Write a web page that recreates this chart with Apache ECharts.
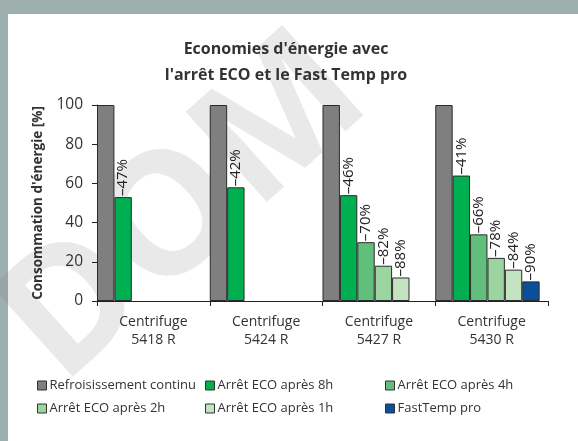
<!DOCTYPE html>
<html>
<head>
<meta charset="utf-8">
<script src="https://cdn.jsdelivr.net/npm/echarts@6/dist/echarts.min.js"></script>
<style>
html,body{margin:0;padding:0;background:#fff;}
#c{width:578px;height:441px;}
</style>
</head>
<body>
<div id="c"></div>
<script>
const categories = ['Centrifuge\n5418 R', 'Centrifuge\n5424 R', 'Centrifuge\n5427 R', 'Centrifuge\n5430 R'];
const seriesNames = ['Refroisissement continu', 'Arrêt ECO après 8h', 'Arrêt ECO après 4h', 'Arrêt ECO après 2h', 'Arrêt ECO après 1h', 'FastTemp pro'];
const continuous = [100, 100, 100, 100];
const eco8h = [53, 58, 54, 64];
const eco4h = ['-', '-', 30, 34];
const eco2h = ['-', '-', 18, 22];
const eco1h = ['-', '-', 12, 16];
const fastTemp = ['-', '-', '-', 10];
const labels8h = ['–47%', '–42%', '–46%', '–41%'];
const labels4h = ['', '', '–70%', '–66%'];
const labels2h = ['', '', '–82%', '–78%'];
const labels1h = ['', '', '–88%', '–84%'];
const labelsFast = ['', '', '', '–90%'];
const yTicks = [0, 20, 40, 60, 80, 100];

const FONT = '"Open Sans", "Noto Sans", sans-serif';
const colors = ['#7f7f7f', '#00b050', '#62bf7b', '#9bd49f', '#c4e4c1', '#0b4f9c'];
const values = [continuous, eco8h, eco4h, eco2h, eco1h, fastTemp];
const labelArrs = [null, labels8h, labels4h, labels2h, labels1h, labelsFast];

const chart = echarts.init(document.getElementById('c'), null, {renderer: 'canvas'});

const series = values.map((vals, i) => ({
  type: 'bar',
  name: seriesNames[i],
  data: vals,
  barWidth: '15.43%',
  barGap: '0%',
  itemStyle: {color: colors[i], borderColor: '#2b2b2b', borderWidth: 1},
  emphasis: {disabled: true},
  label: labelArrs[i] ? {
    show: true,
    position: 'top',
    distance: 1,
    rotate: 90,
    align: 'left',
    verticalAlign: 'middle',
    fontFamily: FONT,
    fontSize: 15,
    color: '#222',
    formatter: (p) => labelArrs[i][p.dataIndex]
  } : {show: false}
}));
series.push({
  type: 'bar',
  name: 'spacer',
  data: ['-', '-', '-', '-'],
  barWidth: '7.4%',
  barGap: '0%',
  itemStyle: {color: 'transparent'}
});

const legendPos = [[32, 374], [200, 374], [380, 374], [32, 397], [200, 397], [380, 397]];
const legends = seriesNames.map((n, i) => ({
  data: [n],
  left: legendPos[i][0],
  top: legendPos[i][1],
  itemWidth: 9,
  itemHeight: 9,
  icon: 'rect',
  selectedMode: false,
  itemStyle: {borderColor: '#333', borderWidth: 1},
  textStyle: {fontFamily: FONT, fontSize: 13, color: '#333', padding: [0, 0, 0, -2]}
}));

const wmAngle = 42 * Math.PI / 180;

chart.setOption({
  animation: false,
  backgroundColor: '#ffffff',
  graphic: [
    {type: 'rect', z: -100, shape: {x: 0, y: 0, width: 578, height: 14}, style: {fill: '#9eb0ad'}, silent: true},
    {type: 'rect', z: -100, shape: {x: 0, y: 0, width: 8, height: 441}, style: {fill: '#9eb0ad'}, silent: true},
    {type: 'text', z: -50, x: 29, y: 351, rotation: wmAngle,
     style: {text: 'DOM', fontSize: 170, fontWeight: 'bold', fontFamily: FONT, fill: 'rgba(120,120,120,0.16)', verticalAlign: 'middle', align: 'left'}, silent: true}
  ],
  title: {
    text: "Economies d'énergie avec\nl'arrêt ECO et le Fast Temp pro",
    left: 281,
    textAlign: 'center',
    top: 31,
    textStyle: {fontFamily: FONT, fontSize: 16, fontWeight: 'bold', color: '#333', lineHeight: 26}
  },
  legend: legends,
  grid: {left: 97, right: 30, top: 105, bottom: 140, containLabel: false},
  xAxis: {
    type: 'category',
    data: categories,
    axisLine: {lineStyle: {color: '#222', width: 1}},
    axisTick: {show: true, length: 5, lineStyle: {color: '#222'}},
    axisLabel: {fontFamily: FONT, fontSize: 14, color: '#333', lineHeight: 18, margin: 12},
    splitLine: {show: false}
  },
  yAxis: {
    type: 'value',
    min: 0,
    max: 100,
    interval: 20,
    name: "Consommation d'énergie [%]",
    nameLocation: 'middle',
    nameGap: 36,
    nameTextStyle: {fontFamily: FONT, fontSize: 13.5, fontWeight: 'bold', color: '#333'},
    axisLine: {show: true, lineStyle: {color: '#222', width: 1}},
    axisTick: {show: true, length: 5, lineStyle: {color: '#222'}},
    axisLabel: {fontFamily: FONT, fontSize: 15.5, color: '#333', margin: 14,
      formatter: (v) => yTicks.includes(v) ? String(v) : ''},
    splitLine: {show: false}
  },
  series: series
});
</script>
</body>
</html>
